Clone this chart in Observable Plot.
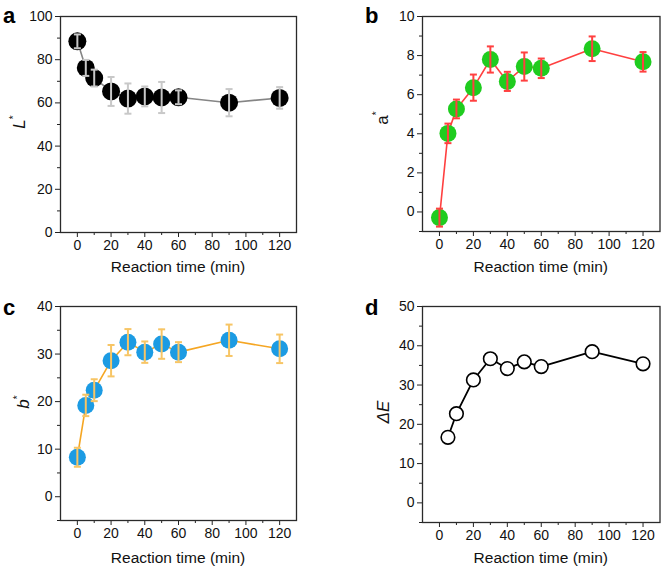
<!DOCTYPE html>
<html>
<head>
<meta charset="utf-8">
<script src="https://cdn.jsdelivr.net/npm/d3@7"></script>
<script src="https://cdn.jsdelivr.net/npm/@observablehq/plot@0.6"></script>
<style>
  html, body { margin: 0; padding: 0; background: #fff; }
  #root { position: relative; width: 661px; height: 567px; overflow: hidden; font-family: "Liberation Sans", Arial, sans-serif; }
  .panel { position: absolute; }
  .letter { position: absolute; font-weight: bold; font-size: 22px; color: #000; line-height: 1; }
  .ylab { position: absolute; font-size: 17px; color: #111; transform: translate(-50%, -50%) rotate(-90deg); white-space: nowrap; line-height: 1; }
  .ylab sup { font-size: 10px; vertical-align: 8px; font-style: normal; }
  .xlab { position: absolute; font-size: 15.5px; color: #111; transform: translate(-50%, -50%); white-space: nowrap; line-height: 1; }
</style>
</head>
<body>
<div id="root"></div>
<script>
// ---- data ----
const time = [0, 5, 10, 20, 30, 40, 50, 60, 90, 120];
const Lstar    = [88.5, 76.2, 71.5, 65.3, 62.0, 63.0, 62.5, 62.6, 60.1, 62.3];
const LstarErr = [3.2, 3.7, 3.9, 6.7, 7.0, 4.6, 7.2, 3.2, 6.3, 5.0];
const aStar    = [-0.29, 4.02, 5.27, 6.36, 7.80, 6.68, 7.44, 7.35, 8.35, 7.68];
const aStarErr = [0.46, 0.50, 0.48, 0.67, 0.67, 0.49, 0.72, 0.50, 0.63, 0.50];
const bStar    = [8.3, 19.2, 22.4, 28.6, 32.5, 30.4, 32.1, 30.4, 32.9, 31.1];
const bStarErr = [2.0, 2.25, 2.3, 3.3, 2.75, 2.25, 3.1, 2.1, 3.3, 3.0];
const dETime   = [5, 10, 20, 30, 40, 50, 60, 90, 120];
const deltaE   = [16.7, 22.7, 31.3, 36.7, 34.2, 35.9, 34.7, 38.5, 35.4];
const xMajor = [0, 20, 40, 60, 80, 100, 120];
const xMinor = [10, 30, 50, 70, 90, 110];
const xTitle = "Reaction time (min)";

const capSymbol = {
  draw(context, size) {
    const w = Math.sqrt(size / Math.PI);
    context.moveTo(-w, 0);
    context.lineTo(w, 0);
  }
};

const root = document.getElementById("root");

function addDiv(cls, html, x, y) {
  const el = document.createElement("div");
  el.className = cls;
  el.innerHTML = html;
  el.style.left = x + "px";
  el.style.top = y + "px";
  root.appendChild(el);
}

function panel(o) {
  const data = o.x.map((t, i) => ({x: t, y: o.y[i], e: o.err ? o.err[i] : 0}));
  const marks = [
    Plot.axisX({ticks: xMajor, tickSize: 5, tickPadding: 3, fontSize: 14, label: null, stroke: "#222"}),
    Plot.axisX({ticks: xMinor, tickSize: 3, tickFormat: () => "", label: null, stroke: "#222"}),
    Plot.axisY({ticks: o.yMajor, tickSize: 5, tickPadding: 3, fontSize: 14, label: null, stroke: "#222"}),
    Plot.axisY({ticks: o.yMinor, tickSize: 3, tickFormat: () => "", label: null, stroke: "#222"}),
    Plot.line(data, {x: "x", y: "y", stroke: o.lineColor, strokeWidth: o.lineWidth || 1.6})
  ];
  marks.push(Plot.dot(data, {x: "x", y: "y", r: o.r, fill: o.dotFill, stroke: o.dotStroke || "none", strokeWidth: 1.6}));
  if (o.err) {
    marks.push(Plot.ruleX(data, {x: "x", y1: d => d.y - d.e, y2: d => d.y + d.e, stroke: o.errColor, strokeWidth: 2}));
    marks.push(Plot.dot(data, {x: "x", y: d => d.y + d.e, symbol: capSymbol, r: 3.5, stroke: o.errColor, strokeWidth: 2}));
    marks.push(Plot.dot(data, {x: "x", y: d => d.y - d.e, symbol: capSymbol, r: 3.5, stroke: o.errColor, strokeWidth: 2}));
  }
  marks.push(Plot.frame({stroke: "#2a2a2a", strokeWidth: 1.3}));
  const svg = Plot.plot({
    width: o.w, height: o.h,
    marginLeft: o.ml, marginRight: o.mr, marginTop: o.mt, marginBottom: o.mb,
    style: {fontFamily: "Liberation Sans, Arial, sans-serif", fontSize: "14px", color: "#111", background: "transparent", overflow: "visible"},
    x: {domain: [-10, 130]},
    y: {domain: o.yDomain},
    marks
  });
  const div = document.createElement("div");
  div.className = "panel";
  div.style.left = o.left + "px";
  div.style.top = o.top + "px";
  div.appendChild(svg);
  root.appendChild(div);

  addDiv("letter", o.letter, o.letterPos[0], o.letterPos[1]);
  addDiv("ylab", o.ylabel, o.ylabPos[0], o.ylabPos[1]);
  const cx = o.left + o.ml + (o.w - o.ml - o.mr) / 2;
  addDiv("xlab", xTitle, cx, o.xlabY);
}

panel({
  left: 0, top: 0, w: 330, h: 285, ml: 60, mr: 34, mt: 16, mb: 53, xlabY: 267,
  x: time, y: Lstar, err: LstarErr, yDomain: [0, 100],
  yMajor: [0, 20, 40, 60, 80, 100], yMinor: [10, 30, 50, 70, 90],
  lineColor: "#858585", dotFill: "#000", errColor: "#c8c8c8", r: 9,
  letter: "a", letterPos: [3, 5], ylabel: "<i>L</i><sup>*</sup>", ylabPos: [18, 122]
});
panel({
  left: 330, top: 0, w: 331, h: 285, ml: 92, mr: 1.5, mt: 16, mb: 54, xlabY: 267,
  x: time, y: aStar, err: aStarErr, yDomain: [-1, 10],
  yMajor: [0, 2, 4, 6, 8, 10], yMinor: [-1, 1, 3, 5, 7, 9],
  lineColor: "#ff4040", dotFill: "#1fcc1f", errColor: "#ff4040", r: 8.5,
  letter: "b", letterPos: [365, 5], ylabel: "a<sup>*</sup>", ylabPos: [381, 118]
});
panel({
  left: 0, top: 285, w: 330, h: 282, ml: 60, mr: 34, mt: 21, mb: 47, xlabY: 558,
  x: time, y: bStar, err: bStarErr, yDomain: [-5, 40],
  yMajor: [0, 10, 20, 30, 40], yMinor: [-5, 5, 15, 25, 35],
  lineColor: "#f5a623", dotFill: "#1c9be3", errColor: "#f7c565", r: 8.5,
  letter: "c", letterPos: [3, 297], ylabel: "<i>b</i><sup>*</sup>", ylabPos: [22, 402]
});
panel({
  left: 330, top: 285, w: 331, h: 282, ml: 92, mr: 1.5, mt: 21, mb: 45, xlabY: 558,
  x: dETime, y: deltaE, err: null, yDomain: [-5, 50],
  yMajor: [0, 10, 20, 30, 40, 50], yMinor: [-5, 5, 15, 25, 35, 45],
  lineColor: "#000", lineWidth: 1.8, dotFill: "#fff", dotStroke: "#000", r: 6.8,
  letter: "d", letterPos: [365, 297], ylabel: "<i>&Delta;E</i>", ylabPos: [383, 412]
});
</script>
</body>
</html>
